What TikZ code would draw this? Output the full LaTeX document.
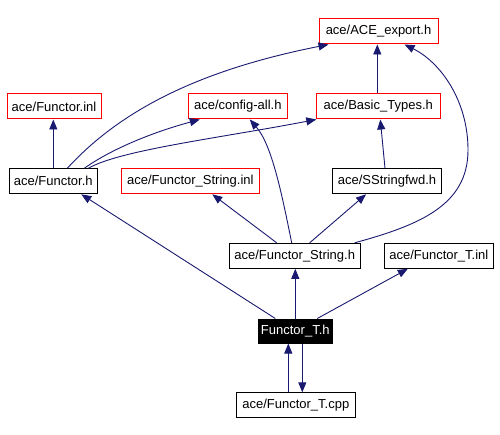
\documentclass[tikz,border=0pt]{standalone}
\usepackage{fontspec}
\setmainfont{Liberation Sans}
\usetikzlibrary{arrows.meta}
\definecolor{edgeblue}{HTML}{191970}
\begin{document}
\begin{tikzpicture}[x=1pt,y=-1pt,
  box/.style={draw=black,line width=1pt,minimum height=25pt,inner sep=0pt,font=\fontsize{13}{15}\selectfont,anchor=center},
  redbox/.style={box,draw=red},
  blackbox/.style={box,fill=black,text=white},
  arr/.style={draw=edgeblue,line width=0.9pt,-{Triangle[length=10pt,width=8pt]}}]
\useasboundingbox (0,0) rectangle (500,435);
\node[redbox,minimum width=119pt] (exp) at (378.5,31.5) {ace/ACE\_export.h};
\node[redbox,minimum width=94pt] (inl) at (54,106.5) {ace/Functor.inl};
\node[redbox,minimum width=99pt] (cfg) at (237.8,106.5) {ace/config-all.h};
\node[redbox,minimum width=124pt] (bt) at (378.3,106.5) {ace/Basic\_Types.h};
\node[box,minimum width=88pt] (fh) at (53.3,181.3) {ace/Functor.h};
\node[redbox,minimum width=138pt] (fsi) at (190.3,181.3) {ace/Functor\_String.inl};
\node[box,minimum width=109pt] (ssf) at (387,181.3) {ace/SStringfwd.h};
\node[box,minimum width=131pt] (fsh) at (294.7,255.8) {ace/Functor\_String.h};
\node[box,minimum width=109pt] (fti) at (438.8,255.8) {ace/Functor\_T.inl};
\node[blackbox,minimum width=74pt,minimum height=24pt] (fth) at (295.3,331) {Functor\_T.h};
\node[box,minimum width=119pt] (cpp) at (295.8,405.3) {ace/Functor\_T.cpp};
% edges
\draw[arr] (fh.north) -- (fh.north |- inl.south);
\draw[arr] ([xshift=14pt]fh.north) .. controls (125,105) and (210,68) .. ([xshift=-50pt]exp.south);
\draw[arr] ([xshift=31pt]fh.north) .. controls (110,150) and (150,133) .. ([xshift=-38pt]cfg.south);
\draw[arr] ([xshift=35pt]fh.north) .. controls (120,150) and (220,138) .. ([xshift=-62pt]bt.south);
\draw[arr] ([xshift=-3pt]fsh.north) .. controls (282,195) and (272,145) .. ([xshift=12pt]cfg.south);
\draw[arr] ([xshift=-18pt]fsh.north) -- ([xshift=22pt]fsi.south);
\draw[arr] ([xshift=15pt]fsh.north) -- ([xshift=-21pt]ssf.south);
\draw[arr] ([xshift=60pt]fsh.north) .. controls (420,225) and (468,205) .. (468,150) .. controls (468,100) and (440,62) .. ([xshift=26pt]exp.south);
\draw[arr] ([xshift=-2pt]ssf.north) -- ([xshift=2pt]bt.south);
\draw[arr] ([xshift=-1pt]bt.north) -- ([xshift=-1pt]bt.north |- exp.south);
\draw[arr] ([xshift=-20pt]fth.north) -- ([xshift=28pt]fh.south);
\draw[arr] (fth.north) -- (fth.north |- fsh.south);
\draw[arr] ([xshift=22pt]fth.north) -- ([xshift=-31pt]fti.south);
\draw[arr] ([xshift=-7pt]fth.south |- cpp.north) -- ([xshift=-7pt]fth.south);
\draw[arr] ([xshift=7pt]fth.south) -- ([xshift=7pt]fth.south |- cpp.north);
\end{tikzpicture}
\end{document}
